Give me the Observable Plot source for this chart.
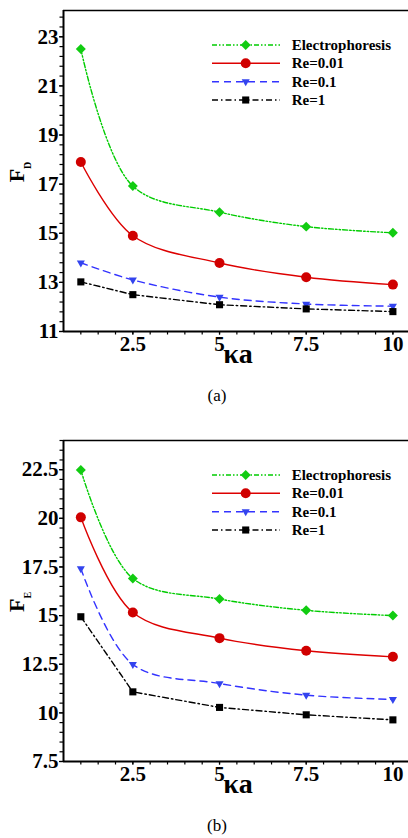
<!DOCTYPE html>
<html>
<head>
<meta charset="utf-8">
<script src="https://cdn.jsdelivr.net/npm/d3@7"></script>
<script src="https://cdn.jsdelivr.net/npm/@observablehq/plot@0.6"></script>
<style>
  html, body { margin: 0; padding: 0; background: #fff; overflow: hidden; }
  .panel { position: relative; width: 408px; height: 430px; overflow: hidden; }
  .caption { position: absolute; top: 386px; left: 217px; transform: translateX(-50%);
    font: 17px "Liberation Serif", "Times New Roman", serif; line-height: 20px; color: #000; white-space: nowrap; }
</style>
</head>
<body>
<div id="panelA" class="panel"><div class="caption">(a)</div></div>
<div id="panelB" class="panel"><div class="caption">(b)</div></div>
<script>
// ---- data ----
const kappa = [1, 2.5, 5, 7.5, 10];
const seriesNames = ["Electrophoresis", "Re=0.01", "Re=0.1", "Re=1"];

const fdElectro = [22.5, 16.92, 15.86, 15.27, 15.02];
const fdRe001   = [17.9, 14.9, 13.79, 13.21, 12.91];
const fdRe01    = [13.8, 13.1, 12.4, 12.12, 12.03];
const fdRe1     = [13.02, 12.5, 12.09, 11.92, 11.81];

const feElectro = [22.48, 16.91, 15.85, 15.27, 15.0];
const feRe001   = [20.05, 15.16, 13.84, 13.19, 12.88];
const feRe01    = [17.42, 12.49, 11.51, 10.91, 10.69];
const feRe1     = [14.94, 11.08, 10.28, 9.9, 9.64];

const xTickValues = [2.5, 5, 7.5, 10];
const fdTickValues = [11, 13, 15, 17, 19, 21, 23];
const feTickValues = [7.5, 10, 12.5, 15, 17.5, 20, 22.5];

// ---- styles ----
const triangleDown = {
  draw(ctx, size) {
    const y = Math.sqrt(size / (3 * Math.sqrt(3)));
    ctx.moveTo(0, 2 * y);
    ctx.lineTo(-Math.sqrt(3) * y, -y);
    ctx.lineTo(Math.sqrt(3) * y, -y);
    ctx.closePath();
  }
};
const styles = [
  {stroke: "#00cc00", fill: "#11cc11", dash: "5,2,1.5,2,1.5,2", symbol: d3.symbolDiamond2, r: 4.5, curve: "catmull-rom"},
  {stroke: "#dd0000", fill: "#d00000", dash: null, symbol: d3.symbolCircle, r: 5, curve: "catmull-rom"},
  {stroke: "#3333ff", fill: "#3344ee", dash: "7,5", symbol: triangleDown, r: 3, curve: "catmull-rom"},
  {stroke: "#000000", fill: "#000000", dash: "6,3,1.5,3", symbol: d3.symbolSquare, r: 4, curve: "linear"}
];

const serif = '"Liberation Serif", "Times New Roman", "DejaVu Serif", serif';

function range(a, b, step) {
  const out = [];
  for (let v = a; v <= b + 1e-9; v += step) out.push(+v.toFixed(4));
  return out;
}

function makePanel(el, seriesValues, yDomain, yTicks, yMinorStep, sub) {
  const xDomain = [0.5, 10.45];
  const marks = [];
  marks.push(Plot.ruleY([yDomain[1]], {stroke: "#000", strokeWidth: 1.5}));
  seriesValues.forEach((vals, i) => {
    const st = styles[i];
    const rows = kappa.map((k, j) => ({k, v: vals[j], s: seriesNames[i]}));
    marks.push(Plot.line(rows, {x: "k", y: "v", stroke: st.stroke, strokeWidth: 1.4,
      strokeDasharray: st.dash || undefined, curve: st.curve}));
    marks.push(Plot.dot(rows, {x: "k", y: "v", symbol: st.symbol, r: st.r, fill: st.fill, stroke: "none"}));
  });
  marks.push(Plot.axisY({ticks: range(yDomain[0], yDomain[1], yMinorStep), tickSize: 3.5, strokeWidth: 1.2, tickFormat: () => "", label: null}));
  marks.push(Plot.axisY({ticks: yTicks, tickSize: 4, tickPadding: 1, strokeWidth: 1.2, label: null,
    fontSize: 21, fontWeight: "bold", fontFamily: serif, tickFormat: d => String(d)}));
  marks.push(Plot.axisX({ticks: range(1, 10, 0.5), tickSize: 3.5, strokeWidth: 1.2, tickFormat: () => "", label: null}));
  marks.push(Plot.axisX({ticks: xTickValues, tickSize: 3.5, tickPadding: 1.5, strokeWidth: 1.2, label: null,
    fontSize: 21, fontWeight: "bold", fontFamily: serif, tickFormat: d => String(d)}));
  marks.push(Plot.ruleX([xDomain[0]], {stroke: "#000", strokeWidth: 2}));
  marks.push(Plot.ruleY([yDomain[0]], {stroke: "#000", strokeWidth: 2}));
  marks.push(Plot.text(["κa"], {frameAnchor: "bottom", lineAnchor: "bottom", dx: 2, dy: 31,
    fontSize: 28, fontWeight: "bold", fontFamily: serif, fill: "#000"}));

  const chart = Plot.plot({
    width: 408,
    height: 372,
    marginLeft: 63,
    marginRight: 0,
    marginTop: 10,
    marginBottom: 41,
    x: {domain: xDomain},
    y: {domain: yDomain},
    style: {background: "#fff", color: "#000", fontFamily: serif, overflow: "visible"},
    marks
  });
  el.insertBefore(chart, el.firstChild);

  const svg = d3.select(chart);
  const yl = svg.append("text")
    .attr("transform", "translate(24,172) rotate(-90)")
    .attr("text-anchor", "middle")
    .attr("font-family", serif)
    .attr("font-weight", "bold")
    .attr("font-size", 22)
    .attr("fill", "#000");
  yl.append("tspan").text("F");
  yl.append("tspan").attr("font-size", 10).attr("dy", 7).text(sub);

  const lg = svg.append("g");
  const rowY = [45, 63.3, 81.7, 100];
  seriesNames.forEach((name, i) => {
    const st = styles[i];
    lg.append("line").attr("x1", 212).attr("x2", 280).attr("y1", rowY[i]).attr("y2", rowY[i])
      .attr("stroke", st.stroke).attr("stroke-width", 1.4)
      .attr("stroke-dasharray", st.dash || null);
    lg.append("path").attr("transform", `translate(245.7,${rowY[i]})`)
      .attr("d", d3.symbol().type(st.symbol).size(Math.PI * st.r * st.r)())
      .attr("fill", st.fill);
    lg.append("text").attr("x", 291.7).attr("y", rowY[i]).attr("dy", "0.34em")
      .attr("text-anchor", "start")
      .attr("font-family", serif).attr("font-weight", "bold").attr("font-size", 15)
      .attr("fill", "#000").text(name);
  });
}

makePanel(document.getElementById("panelA"), [fdElectro, fdRe001, fdRe01, fdRe1], [11, 24.07], fdTickValues, 0.4, "D");
makePanel(document.getElementById("panelB"), [feElectro, feRe001, feRe01, feRe1], [7.5, 24.0], feTickValues, 0.5, "E");
</script>
</body>
</html>
